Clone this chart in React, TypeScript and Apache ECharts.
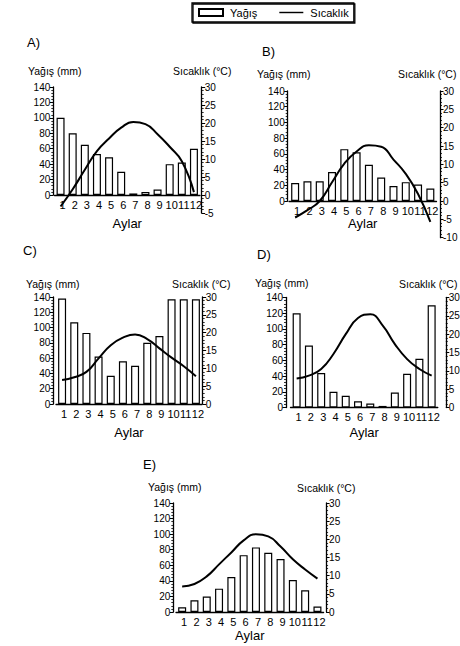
import React, { useEffect, useRef } from "react";
import * as echarts from "echarts";

const months = ["1", "2", "3", "4", "5", "6", "7", "8", "9", "10", "11", "12"];

const rainA = [100, 80, 65, 53, 49, 30, 2, 4, 7, 40, 42, 60];
const tempA = [-3.2, 1.6, 7, 12.2, 15.7, 18.7, 20.3, 19.7, 16.9, 13.4, 9.4, 0.8];

const rainB = [23, 25, 25, 37, 66, 62, 46, 30, 19, 24, 21, 16];
const tempB = [-4.5, -2.5, 0, 5.1, 10.2, 13.5, 15.2, 14.8, 11.3, 7.4, 1.9, -5.7];

const rainC = [138, 107, 93, 62, 37, 56, 50, 80, 89, 137, 137, 137];
const tempC = [6.7, 7.5, 9, 12.8, 16.5, 18.6, 19.5, 18.2, 15.6, 13, 10.6, 7.8];

const rainD = [120, 79, 44, 20, 15, 8, 5, 2, 19, 43, 62, 130];
const tempD = [7.9, 8.7, 10.5, 14.6, 20, 24.4, 25.4, 22.4, 17.3, 13.2, 10.5, 8.7];

const rainE = [6, 15, 20, 30, 45, 73, 83, 76, 68, 41, 28, 7];
const tempE = [7, 7.7, 9.8, 13.1, 16.4, 19.7, 21.4, 20.8, 18, 14.5, 11.7, 9.2];

const panelTitles = ["A)", "B)", "C)", "D)", "E)"];
const tempMins = [-5, -10, 0, 0, 0];
const rainSeries = [rainA, rainB, rainC, rainD, rainE];
const tempSeries = [tempA, tempB, tempC, tempD, tempE];

// layout only
const layouts = [
  { left: 54.5, width: 145.5, top: 87, height: 108, loff: 1.2, roff: 1.7, title: [27, 42], yName: [28, 71], tName: [173, 71], aylarY: 223 },
  { left: 289, width: 147.5, top: 91, height: 110, loff: 1.3, roff: 3.5, title: [262, 51], yName: [257, 74], tName: [398, 74], aylarY: 223 },
  { left: 56, width: 146, top: 297, height: 107, loff: 2.7, roff: 0.7, title: [23, 250], yName: [26, 284], tName: [172, 284], aylarY: 432 },
  { left: 290.5, width: 147.3, top: 297.5, height: 110, loff: 4.5, roff: 8, title: [257, 254], yName: [255, 283], tName: [399, 284], aylarY: 432 },
  { left: 176, width: 147.6, top: 503, height: 109, loff: 2.7, roff: 2.5, title: [143, 464], yName: [148, 487], tName: [297, 488], aylarY: 635 },
];

const FONT = "'Liberation Sans', Arial, Helvetica, sans-serif";
const BLACK = "#000";

export default function App() {
  const ref = useRef<HTMLDivElement>(null);

  useEffect(() => {
    if (!ref.current) return;
    const chart = echarts.init(ref.current, null, { renderer: "svg" });

    const grid: any[] = [];
    const xAxis: any[] = [];
    const yAxis: any[] = [];
    const series: any[] = [];
    const graphic: any[] = [];

    layouts.forEach((L, i) => {
      const tMin = tempMins[i];
      const tempHeight = (L.height * (30 - tMin)) / 30;
      grid.push({ left: L.left, top: L.top, width: L.width, height: L.height, containLabel: false, outerBoundsMode: "none" });
      grid.push({ left: L.left, top: L.top, width: L.width, height: tempHeight, containLabel: false, outerBoundsMode: "none" });

      xAxis.push({
        type: "category",
        gridIndex: 2 * i,
        data: months,
        boundaryGap: true,
        axisLine: { show: true, lineStyle: { color: BLACK, width: 1.3 } },
        axisTick: { show: false },
        axisLabel: { interval: 0, fontSize: 11, color: BLACK, margin: 4, padding: [0, 0, 0, 4], fontFamily: FONT },
        splitLine: { show: false },
      });
      xAxis.push({ type: "category", gridIndex: 2 * i + 1, data: months, boundaryGap: true, show: false });

      yAxis.push({
        type: "value",
        gridIndex: 2 * i,
        position: "left",
        offset: L.loff,
        min: 0,
        max: 140,
        interval: 20,
        axisLine: { show: true, lineStyle: { color: BLACK, width: 1.3 } },
        axisTick: { show: true, length: 3.5, lineStyle: { color: BLACK, width: 1 } },
        minorTick: { show: true, splitNumber: 5, length: 2, lineStyle: { color: BLACK, width: 0.8 } },
        splitLine: { show: false },
        minorSplitLine: { show: false },
        axisLabel: { fontSize: 10, color: BLACK, margin: 3, fontFamily: FONT },
      });
      yAxis.push({
        type: "value",
        gridIndex: 2 * i + 1,
        position: "right",
        offset: L.roff,
        min: tMin,
        max: 30,
        interval: 5,
        axisLine: { show: true, lineStyle: { color: BLACK, width: 1.3 } },
        axisTick: { show: true, length: 3.5, lineStyle: { color: BLACK, width: 1 } },
        minorTick: { show: true, splitNumber: 5, length: 2, lineStyle: { color: BLACK, width: 0.8 } },
        splitLine: { show: false },
        minorSplitLine: { show: false },
        axisLabel: { fontSize: 10, color: BLACK, margin: 3, fontFamily: FONT },
      });

      series.push({
        type: "bar",
        name: "Yağış",
        xAxisIndex: 2 * i,
        yAxisIndex: 2 * i,
        data: rainSeries[i],
        barWidth: 8,
        z: 2,
        itemStyle: { color: "#fff", borderColor: BLACK, borderWidth: 1.2 },
      });
      series.push({
        type: "line",
        name: "Sıcaklık",
        xAxisIndex: 2 * i + 1,
        yAxisIndex: 2 * i + 1,
        data: tempSeries[i],
        smooth: true,
        symbol: "none",
        z: 3,
        itemStyle: { color: BLACK },
        lineStyle: { color: BLACK, width: 2 },
      });

      graphic.push({
        type: "text",
        x: L.title[0],
        y: L.title[1],
        style: { text: panelTitles[i], fontSize: 13, fontFamily: FONT, fill: BLACK, verticalAlign: "middle", align: "left" },
      });
      graphic.push({
        type: "text",
        x: L.yName[0],
        y: L.yName[1],
        style: { text: "Yağış (mm)", fontSize: 10.5, fontFamily: FONT, fill: BLACK, verticalAlign: "middle", align: "left" },
      });
      graphic.push({
        type: "text",
        x: L.tName[0],
        y: L.tName[1],
        style: { text: "Sıcaklık (°C)", fontSize: 10.5, fontFamily: FONT, fill: BLACK, verticalAlign: "middle", align: "left" },
      });
      graphic.push({
        type: "text",
        x: L.left + L.width / 2,
        y: L.aylarY,
        style: { text: "Aylar", fontSize: 13, fontFamily: FONT, fill: BLACK, verticalAlign: "middle", align: "center" },
      });
    });

    chart.setOption({
      animation: false,
      backgroundColor: "#fff",
      textStyle: { fontFamily: FONT },
      legend: {
        data: [
          { name: "Yağış", icon: "rect" },
          { name: "Sıcaklık", icon: "path://M0,0H40V2.4H0Z" },
        ],
        left: 192,
        top: 3,
        orient: "horizontal",
        itemWidth: 24,
        itemHeight: 7,
        itemGap: 22,
        padding: [4, 5, 4, 6],
        borderColor: BLACK,
        borderWidth: 1.3,
        shadowColor: BLACK,
        shadowOffsetX: 1,
        shadowOffsetY: 1,
        shadowBlur: 0,
        selectedMode: false,
        textStyle: { fontSize: 11, color: BLACK, fontFamily: FONT, padding: [0, 0, 0, 2] },
      },
      grid,
      xAxis,
      yAxis,
      series,
      graphic,
    });

    return () => chart.dispose();
  }, []);

  return (
    <div style={{ position: "fixed", left: 0, top: 0, width: 460, height: 646, overflow: "hidden", background: "#fff" }}>
      <div ref={ref} style={{ width: 500, height: 646 }} />
    </div>
  );
}
